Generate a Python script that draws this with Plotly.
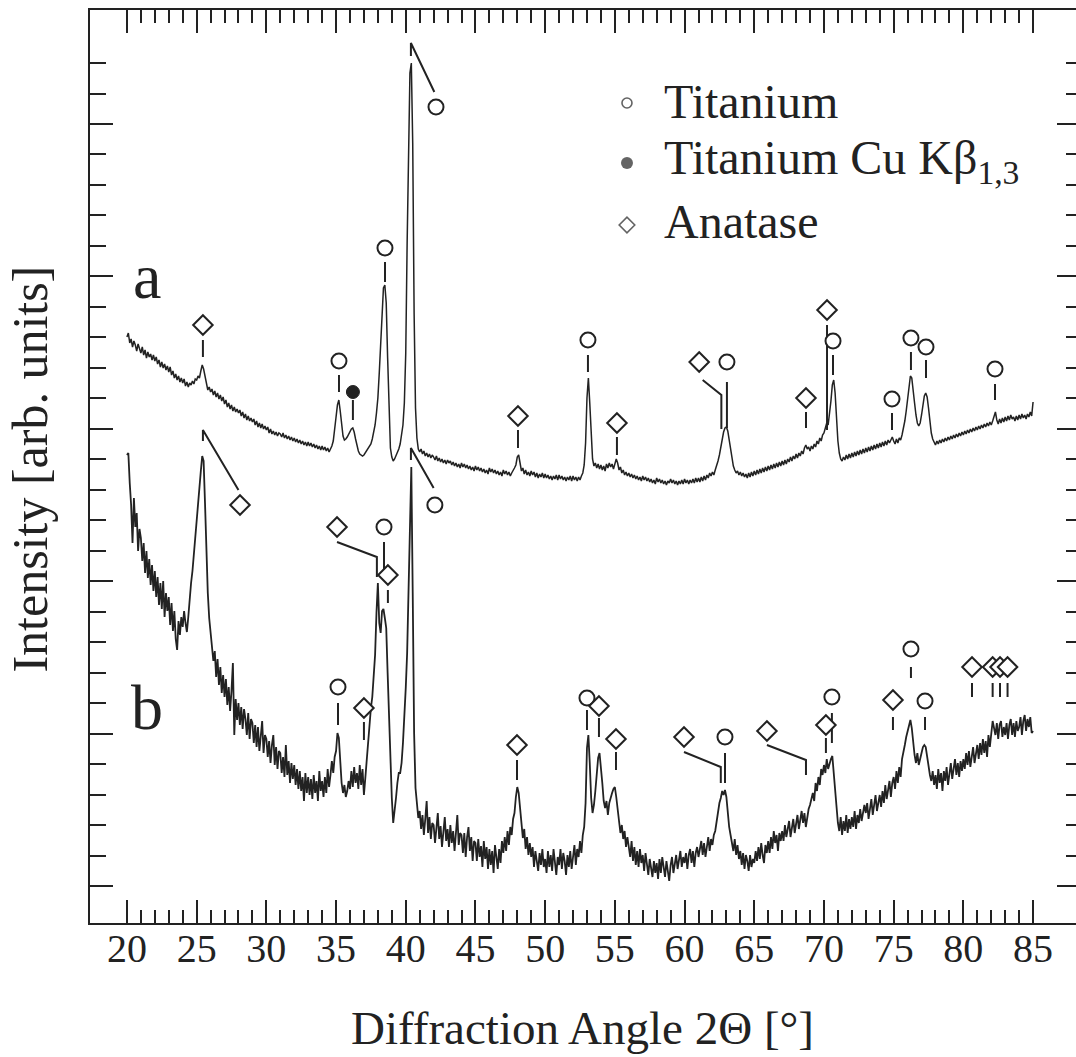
import plotly.graph_objects as go

INK = "#222222"
SERIF = "Liberation Serif, Times New Roman, serif"

# ---------------- scan parameters (diffractometer step) ----------------
SCAN_START = 20.0
SCAN_STEP = 0.1

# ---------------- pattern a (intensity, arb. units), one row per degree ----------------
CURVE_A_ROWS = [
    [586, 590, 580, 584, 576, 582, 578, 572, 579, 574],  # 20
    [570, 576, 568, 573, 565, 571, 566, 569, 563, 568],
    [562, 566, 559, 563, 556, 561, 555, 559, 553, 557],
    [551, 556, 548, 552, 545, 549, 543, 547, 541, 545],
    [540, 544, 537, 541, 536, 540, 538, 542, 539, 544],
    [543, 547, 545, 552, 558, 554, 548, 540, 533, 536],  # 25
    [531, 534, 528, 532, 526, 530, 524, 528, 522, 526],
    [519, 523, 516, 520, 514, 518, 512, 516, 511, 514],
    [510, 513, 507, 511, 505, 509, 503, 507, 502, 505],
    [501, 504, 498, 502, 496, 500, 495, 499, 494, 497],
    [493, 496, 490, 494, 489, 492, 488, 491, 487, 490],  # 30
    [489, 486, 490, 485, 488, 484, 487, 483, 486, 482],
    [485, 481, 484, 480, 483, 479, 482, 478, 481, 477],
    [481, 477, 480, 476, 479, 475, 478, 474, 477, 473],
    [477, 473, 476, 472, 475, 471, 474, 477, 482, 492],
    [506, 518, 523, 512, 497, 487, 483, 484, 486, 489],  # 35
    [492, 494, 495, 491, 484, 477, 472, 469, 468, 467],
    [468, 470, 472, 474, 476, 479, 484, 490, 498, 510],
    [525, 550, 580, 615, 635, 638, 620, 565, 505, 475],
    [466, 462, 464, 467, 470, 474, 479, 487, 498, 520],
    [570, 680, 790, 850, 860, 780, 610, 515, 485, 474],  # 40
    [471, 474, 469, 472, 467, 470, 466, 469, 465, 468],
    [466, 463, 467, 462, 465, 461, 464, 460, 463, 459],
    [463, 460, 462, 458, 461, 457, 460, 456, 459, 455],
    [460, 456, 459, 455, 458, 454, 457, 453, 456, 452],
    [457, 453, 456, 452, 455, 451, 454, 450, 453, 449],  # 45
    [455, 451, 454, 450, 453, 449, 452, 448, 451, 447],
    [453, 449, 452, 448, 451, 447, 450, 452, 455, 458],
    [466, 468, 459, 452, 455, 449, 453, 448, 451, 447],
    [452, 448, 451, 446, 450, 445, 449, 446, 450, 445],
    [449, 445, 448, 444, 447, 443, 447, 444, 448, 443],  # 50
    [448, 444, 447, 443, 446, 442, 446, 443, 447, 442],
    [447, 443, 446, 442, 446, 443, 447, 450, 458, 480],
    [525, 545, 520, 485, 464, 457, 460, 455, 459, 454],
    [458, 453, 457, 452, 459, 455, 460, 456, 459, 454],
    [458, 464, 460, 453, 456, 450, 453, 448, 451, 447],  # 55
    [450, 446, 449, 445, 448, 444, 447, 443, 446, 442],
    [447, 443, 446, 442, 445, 441, 444, 440, 443, 439],
    [445, 441, 444, 440, 443, 439, 442, 438, 442, 440],
    [444, 440, 443, 439, 442, 438, 442, 439, 443, 439],
    [444, 440, 443, 439, 443, 440, 444, 440, 445, 441],  # 60
    [445, 441, 446, 442, 447, 443, 448, 445, 450, 447],
    [451, 448, 453, 457, 462, 468, 476, 484, 491, 495],
    [496, 492, 484, 474, 464, 457, 453, 450, 452, 448],
    [451, 447, 450, 446, 449, 445, 450, 446, 451, 447],
    [452, 448, 453, 449, 454, 450, 455, 451, 456, 452],  # 65
    [457, 453, 458, 454, 459, 455, 460, 456, 461, 457],
    [462, 458, 463, 459, 464, 461, 466, 462, 467, 464],
    [469, 465, 470, 467, 472, 469, 475, 478, 474, 476],
    [472, 477, 474, 479, 476, 482, 479, 485, 482, 488],
    [490, 494, 500, 498, 508, 522, 538, 543, 530, 505],  # 70
    [482, 470, 464, 462, 466, 463, 468, 464, 469, 465],
    [470, 466, 471, 467, 472, 468, 473, 469, 474, 470],
    [475, 471, 476, 472, 477, 473, 478, 474, 479, 475],
    [480, 476, 481, 477, 482, 478, 483, 480, 484, 486],
    [482, 479, 484, 480, 485, 483, 488, 494, 502, 512],  # 75
    [525, 538, 547, 545, 535, 520, 508, 500, 497, 500],
    [508, 518, 527, 530, 526, 515, 500, 490, 484, 480],
    [478, 482, 479, 483, 480, 484, 481, 485, 482, 486],
    [483, 487, 484, 488, 485, 489, 486, 490, 487, 491],
    [488, 492, 489, 493, 490, 494, 491, 495, 492, 496],  # 80
    [493, 497, 494, 498, 495, 499, 496, 500, 497, 501],
    [498, 502, 508, 511, 503, 499, 504, 500, 505, 501],
    [506, 502, 507, 503, 508, 504, 506, 502, 507, 503],
    [508, 504, 509, 505, 508, 504, 509, 506, 511, 507],
    [521],                                                # 85
]

# ---------------- pattern b ----------------
CURVE_B_ROWS = [
    [468, 470, 440, 418, 380, 425, 396, 410, 372, 394],  # 20
    [385, 362, 380, 350, 372, 345, 364, 338, 358, 332],
    [352, 326, 346, 318, 340, 314, 342, 306, 330, 312],
    [326, 298, 320, 292, 312, 284, 273, 302, 288, 306],
    [296, 312, 300, 291, 306, 325, 340, 352, 370, 385],
    [400, 415, 432, 452, 467, 462, 420, 365, 330, 305],  # 25
    [290, 275, 262, 272, 246, 264, 238, 256, 230, 248],
    [226, 244, 218, 236, 212, 232, 260, 188, 224, 203],
    [220, 198, 216, 194, 214, 204, 188, 210, 184, 204],
    [200, 180, 198, 176, 196, 172, 192, 202, 170, 188],
    [184, 166, 182, 160, 178, 188, 158, 176, 154, 172],  # 30
    [170, 150, 166, 146, 178, 148, 162, 140, 160, 144],
    [158, 138, 154, 134, 152, 132, 146, 122, 150, 130],
    [146, 128, 144, 124, 148, 130, 142, 122, 152, 132],
    [142, 126, 146, 130, 154, 136, 148, 162, 150, 166],
    [172, 190, 185, 160, 140, 130, 138, 126, 132, 142],  # 35
    [134, 152, 136, 156, 140, 150, 134, 158, 138, 154],
    [128, 145, 162, 185, 200, 215, 226, 245, 268, 310],
    [340, 300, 290, 312, 314, 305, 295, 250, 200, 160],
    [125, 100, 110, 125, 140, 150, 150, 160, 180, 205],
    [235, 270, 340, 420, 456, 330, 190, 135, 115, 105],  # 40
    [112, 94, 108, 88, 104, 122, 90, 106, 84, 100],
    [98, 80, 95, 110, 84, 97, 76, 92, 106, 82],
    [94, 76, 98, 80, 92, 72, 96, 108, 78, 90],
    [88, 70, 90, 66, 86, 96, 72, 86, 62, 82],
    [80, 62, 84, 66, 77, 56, 82, 64, 76, 54],            # 45
    [74, 58, 72, 50, 78, 62, 54, 74, 60, 82],
    [70, 86, 72, 92, 78, 96, 88, 104, 110, 126],
    [136, 130, 112, 98, 85, 94, 74, 86, 68, 80],
    [66, 76, 56, 72, 62, 52, 70, 58, 74, 56],
    [64, 50, 72, 56, 68, 52, 74, 60, 48, 66],            # 50
    [58, 74, 54, 70, 62, 48, 68, 56, 72, 54],
    [64, 78, 58, 74, 66, 82, 70, 88, 96, 120],
    [175, 188, 160, 125, 110, 118, 132, 150, 165, 170],
    [158, 140, 122, 115, 122, 108, 120, 126, 130, 134],
    [136, 126, 112, 100, 90, 98, 84, 92, 76, 86],        # 55
    [76, 66, 82, 62, 76, 58, 72, 56, 74, 60],
    [68, 52, 70, 56, 48, 64, 54, 46, 62, 50],
    [60, 44, 64, 50, 66, 54, 46, 62, 52, 42],
    [58, 66, 50, 62, 68, 54, 64, 72, 56, 66],
    [60, 70, 54, 68, 74, 60, 72, 56, 70, 76],            # 60
    [66, 76, 82, 68, 80, 66, 78, 86, 72, 84],
    [78, 88, 92, 102, 108, 120, 125, 132, 128, 133],
    [126, 110, 96, 88, 80, 72, 84, 68, 78, 64],
    [72, 58, 70, 54, 68, 62, 52, 68, 56, 64],
    [60, 72, 62, 76, 64, 80, 68, 60, 78, 70],            # 65
    [82, 70, 86, 74, 92, 80, 88, 72, 90, 82],
    [92, 82, 98, 86, 94, 102, 86, 96, 104, 90],
    [100, 108, 94, 104, 112, 100, 110, 96, 106, 114],
    [118, 126, 130, 122, 140, 132, 146, 138, 154, 148],
    [158, 150, 164, 154, 160, 164, 167, 150, 125, 108],  # 70
    [100, 92, 106, 88, 102, 92, 108, 90, 104, 94],
    [106, 96, 112, 94, 108, 100, 114, 102, 110, 118],
    [110, 120, 104, 116, 124, 108, 120, 128, 112, 122],
    [128, 116, 132, 120, 138, 124, 134, 142, 126, 140],
    [146, 134, 152, 140, 156, 146, 164, 170, 178, 186],  # 75
    [192, 198, 203, 195, 180, 168, 160, 170, 158, 166],
    [170, 176, 178, 176, 166, 156, 148, 142, 152, 138],
    [148, 134, 154, 140, 150, 132, 152, 142, 156, 138],
    [152, 160, 144, 156, 164, 148, 160, 146, 162, 152],
    [164, 154, 170, 158, 172, 156, 168, 176, 160, 172],  # 80
    [178, 164, 180, 168, 184, 170, 182, 166, 188, 176],
    [188, 202, 195, 188, 200, 184, 198, 202, 186, 196],
    [188, 200, 184, 198, 204, 188, 200, 186, 202, 192],
    [196, 206, 188, 202, 208, 192, 204, 196, 206, 190],
    [192],                                                # 85
]

# ---------------- peak labels, pattern a ----------------
A_TI_X = [35.21, 38.51, 42.17, 53.07, 63.04, 70.65, 74.88, 76.24, 77.32, 82.27]
A_TI_Y = [562, 675, 816, 583, 561, 582, 524, 585, 576, 554]
A_KB_X = [36.21]
A_KB_Y = [531]
A_AN_X = [25.45, 48.05, 55.15, 61.05, 68.71, 70.22]
A_AN_Y = [598, 507, 500, 561, 525, 613]
A_DASH_X = [25.45, 35.21, 36.21, 38.51, 48.05, 53.07, 55.15, 63.04, 68.71, 70.22, 70.65, 74.88, 76.24, 77.32, 82.27]
A_DASH_TOP = [583, 548, 523, 661, 493, 568, 486, 541, 511, 598, 568, 510, 571, 563, 539]
A_DASH_BOT = [566, 531, 503, 641, 475, 551, 468, 495, 495, 493, 548, 493, 553, 545, 523]
A_LEAD_X = [[40.37, 40.37, 42.05], [61.3, 62.64, 62.64]]
A_LEAD_Y = [[867, 880, 831], [543, 528, 494]]

# ---------------- peak labels, pattern b ----------------
B_TI_X = [35.14, 38.44, 42.09, 53.0, 62.9, 70.57, 76.24, 77.25]
B_TI_Y = [236, 396, 418, 225, 186, 226, 274, 222]
B_AN_X = [28.11, 35.07, 37.0, 38.72, 47.98, 53.86, 55.08, 59.96, 65.91, 70.14, 74.95, 80.62, 82.1, 82.63, 83.17]
B_AN_Y = [418, 396, 215, 348, 178, 217, 184, 186, 192, 198, 223, 256, 256, 256, 256]
B_DASH_X = [35.14, 37.0, 38.44, 38.72, 47.98, 53.0, 53.86, 55.08, 62.9, 70.57, 70.14, 74.95, 76.24, 77.25, 80.62, 82.1, 82.63, 83.17]
B_DASH_TOP = [220, 201, 381, 333, 163, 213, 205, 171, 170, 210, 185, 206, 256, 206, 240, 240, 240, 240]
B_DASH_BOT = [198, 183, 353, 320, 143, 193, 186, 153, 140, 180, 170, 193, 245, 193, 226, 226, 226, 226]
B_LEAD_X = [[25.45, 25.45, 28.0], [35.07, 37.93, 37.93], [40.37, 40.37, 42.0], [59.96, 62.6, 62.6], [65.91, 68.71, 68.71]]
B_LEAD_Y = [[482, 493, 433], [381, 366, 346], [463, 475, 435], [171, 156, 140], [178, 163, 148]]

# ---------------- legend / labels ----------------
LEGEND_LABELS = ["Titanium", "Titanium Cu K\u03b2<sub>1,3</sub>", "Anatase"]
LEGEND_SYMBOLS = ["circle", "circle", "diamond"]
LEGEND_FILL = ["white", INK, "white"]
PATTERN_NAMES = ["a", "b"]

# ---------------- axis ticks ----------------
X_MAJOR = [20, 25, 30, 35, 40, 45, 50, 55, 60, 65, 70, 75, 80, 85]
X_MINOR = [v for v in range(20, 86) if v % 5 != 0]
Y_MAJOR = [37.0, 189.4, 341.8, 494.2, 646.6, 799.0]
Y_STEP = 30.48
Y_MINOR = [round(37.0 + Y_STEP * k, 2) for k in range(28)]

curve_a = [v for row in CURVE_A_ROWS for v in row]
curve_b = [v for row in CURVE_B_ROWS for v in row]
angles = [round(SCAN_START + SCAN_STEP * i, 2) for i in range(len(curve_a))]


def segments(xs, tops, bots):
    sx, sy = [], []
    for x, t, b in zip(xs, tops, bots):
        sx += [x, x, None]
        sy += [t, b, None]
    return sx, sy


def polylines(lx, ly):
    sx, sy = [], []
    for xs, ys in zip(lx, ly):
        sx += list(xs) + [None]
        sy += list(ys) + [None]
    return sx, sy


fig = go.Figure()
for c, w in ((curve_a, 1.5), (curve_b, 1.8)):
    fig.add_trace(go.Scatter(x=angles, y=c, mode="lines",
                             line=dict(color=INK, width=w), hoverinfo="skip"))

for xs, t, b in ((A_DASH_X, A_DASH_TOP, A_DASH_BOT), (B_DASH_X, B_DASH_TOP, B_DASH_BOT)):
    sx, sy = segments(xs, t, b)
    fig.add_trace(go.Scatter(x=sx, y=sy, mode="lines", line=dict(color=INK, width=2),
                             hoverinfo="skip"))
for lx, ly in ((A_LEAD_X, A_LEAD_Y), (B_LEAD_X, B_LEAD_Y)):
    sx, sy = polylines(lx, ly)
    fig.add_trace(go.Scatter(x=sx, y=sy, mode="lines", line=dict(color=INK, width=2),
                             hoverinfo="skip"))

open_marker = dict(size=15, color="white", line=dict(color=INK, width=2))
fig.add_trace(go.Scatter(x=A_TI_X + B_TI_X, y=A_TI_Y + B_TI_Y, mode="markers",
                         marker=dict(symbol="circle", **open_marker), hoverinfo="skip"))
fig.add_trace(go.Scatter(x=A_AN_X + B_AN_X, y=A_AN_Y + B_AN_Y, mode="markers",
                         marker=dict(symbol="diamond", **open_marker), hoverinfo="skip"))
fig.add_trace(go.Scatter(x=A_KB_X, y=A_KB_Y, mode="markers",
                         marker=dict(symbol="circle", size=13, color=INK,
                                     line=dict(color=INK, width=1)), hoverinfo="skip"))

# legend
LEG_MX = 55.87
LEG_TX = 58.4
LEG_MY = [820, 760, 698]
LEG_TY = [822, 762, 702]
fig.add_trace(go.Scatter(x=[LEG_MX] * 3, y=LEG_MY, mode="markers",
                         marker=dict(symbol=LEGEND_SYMBOLS, color=LEGEND_FILL,
                                     size=[10, 12, 12], line=dict(color=INK, width=[1.6, 0, 1.6])),
                         hoverinfo="skip"))

# right-hand ticks carrier
fig.add_trace(go.Scatter(x=[SCAN_START], y=[0], yaxis="y2", mode="lines",
                         line=dict(width=0), hoverinfo="skip", showlegend=False))

annotations = []
for lab, ty in zip(LEGEND_LABELS, LEG_TY):
    annotations.append(dict(x=LEG_TX, y=ty, xref="x", yref="y", text=lab, showarrow=False,
                            xanchor="left", yanchor="middle",
                            font=dict(family=SERIF, size=48, color=INK)))
for name, ty in zip(PATTERN_NAMES, [647, 216]):
    annotations.append(dict(x=21.44, y=ty, xref="x", yref="y", text=name, showarrow=False,
                            xanchor="center", yanchor="middle",
                            font=dict(family=SERIF, size=64, color=INK)))
annotations.append(dict(x=0.499, y=-0.115, xref="paper", yref="paper",
                        text="Diffraction Angle 2\u0398 [\u00b0]", showarrow=False,
                        xanchor="center", yanchor="middle",
                        font=dict(family=SERIF, size=47, color=INK)))
annotations.append(dict(x=-0.0605, y=0.497, xref="paper", yref="paper",
                        text="Intensity [arb. units]", showarrow=False, textangle=-90,
                        xanchor="center", yanchor="middle",
                        font=dict(family=SERIF, size=50, color=INK)))

fig.update_layout(
    width=1076, height=1057,
    margin=dict(l=90, r=0, t=10, b=134, autoexpand=False),
    paper_bgcolor="white", plot_bgcolor="white",
    showlegend=False, hovermode=False,
    annotations=annotations,
    xaxis=dict(range=[17.35, 88.08], showgrid=False, zeroline=False,
               showline=True, linecolor=INK, linewidth=2, mirror="ticks",
               ticks="inside", tickmode="array", tickvals=X_MAJOR,
               ticktext=[str(v) for v in X_MAJOR], ticklen=23, tickwidth=2,
               tickcolor=INK, tickfont=dict(family=SERIF, size=40, color=INK),
               ticklabelstandoff=-11,
               minor=dict(tickmode="array", tickvals=X_MINOR, ticks="inside",
                          ticklen=13, tickwidth=2, tickcolor=INK, showgrid=False)),
    yaxis=dict(range=[0, 913], showgrid=False, zeroline=False,
               showline=True, linecolor=INK, linewidth=2, mirror=False,
               ticks="inside", tickmode="array", tickvals=Y_MAJOR,
               ticklen=23, tickwidth=2, tickcolor=INK, showticklabels=False,
               minor=dict(tickmode="array", tickvals=Y_MINOR, ticks="inside",
                          ticklen=16, tickwidth=2, tickcolor=INK, showgrid=False)),
    yaxis2=dict(range=[0, 913], overlaying="y", side="right", showgrid=False,
                zeroline=False, showline=False, ticks="inside", tickmode="array",
                tickvals=Y_MAJOR, ticklen=19, tickwidth=2, tickcolor=INK,
                showticklabels=False,
                minor=dict(tickmode="array", tickvals=Y_MINOR, ticks="inside",
                           ticklen=10, tickwidth=2, tickcolor=INK, showgrid=False)),
)

# remove the page's default 8 px body margin so the figure sits at the window origin
fig.write_html("out.html",
               config={"displayModeBar": False},
               post_script="document.body.style.margin='0';"
                           "document.documentElement.style.overflow='hidden';")
